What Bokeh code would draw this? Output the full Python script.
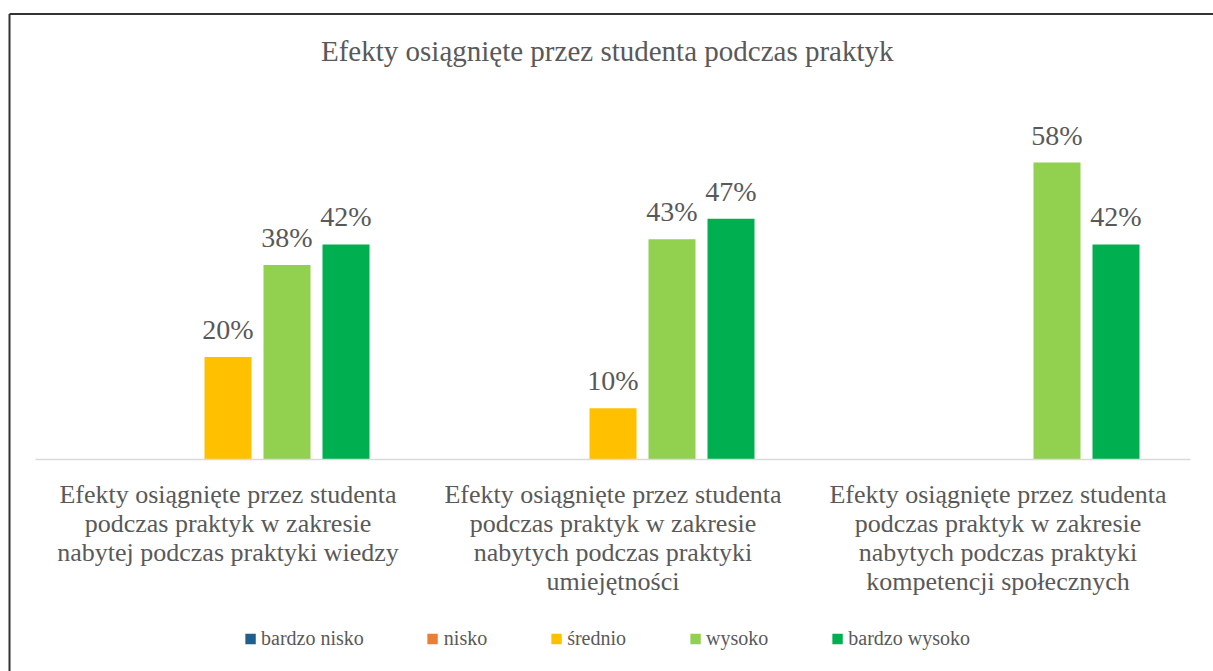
from bokeh.plotting import figure
from bokeh.models import (ColumnDataSource, LinearAxis, FixedTicker, Range1d,
                          Label, LabelSet)
from bokeh.transform import dodge
from bokeh.embed import file_html
from bokeh.resources import INLINE

# ---- data ----
chart_title = "Efekty  osiągnięte  przez studenta podczas praktyk"
categories = [
    "Efekty osiągnięte przez studenta\npodczas praktyk w zakresie\nnabytej podczas praktyki wiedzy",
    "Efekty osiągnięte przez studenta\npodczas praktyk w zakresie\nnabytych podczas praktyki\numiejętności",
    "Efekty osiągnięte przez studenta\npodczas praktyk w zakresie\nnabytych podczas praktyki\nkompetencji społecznych",
]
series_names = ["bardzo nisko", "nisko", "średnio", "wysoko", "bardzo wysoko"]
bardzo_nisko = [0, 0, 0]
nisko = [0, 0, 0]
srednio = [20, 10, 0]
wysoko = [38, 43, 58]
bardzo_wysoko = [42, 47, 42]
series_values = [bardzo_nisko, nisko, srednio, wysoko, bardzo_wysoko]
colors = ["#1F5F8B", "#ED7D31", "#FFC000", "#92D050", "#00B050"]

# ---- layout constants ----
W, H = 1213, 671
AX_LEFT = 35          # canvas x of axis start
PX_X = 385.0          # px per category
BASE = 459            # canvas y of baseline
PX_Y = 5.12           # px per percent

x_start = -0.5 - AX_LEFT / PX_X
x_end = -0.5 + (W - AX_LEFT) / PX_X
y_end = BASE / PX_Y
y_start = -(H - BASE) / PX_Y

TXT = "#595959"
FONT = "Liberation Serif"

p = figure(width=W, height=H, output_backend="svg", toolbar_location=None,
           x_range=Range1d(x_start, x_end), y_range=Range1d(y_start, y_end),
           x_axis_location=None, y_axis_location=None, min_border=0,
           outline_line_color=None, background_fill_color="white",
           border_fill_color="white")
p.title.visible = False
p.xgrid.visible = False
p.ygrid.visible = False

xs = list(range(len(categories)))
bar_w = 47 / PX_X
step = 59 / PX_X

for i, (name, vals, col) in enumerate(zip(series_names, series_values, colors)):
    off = (i - 2) * step
    src = ColumnDataSource(dict(x=xs, top=vals))
    p.vbar(x=dodge("x", off, range=p.x_range), top="top", width=bar_w,
           source=src, fill_color=col, line_color=None, legend_label=name)
    lx = [x for x, v in zip(xs, vals) if v > 0]
    lv = [v for v in vals if v > 0]
    lsrc = ColumnDataSource(dict(x=[x + off for x in lx], y=lv,
                                 t=[f"{v}%" for v in lv]))
    p.add_layout(LabelSet(x="x", y="y", text="t", source=lsrc,
                          text_align="center", text_baseline="alphabetic",
                          y_offset=18, text_font=FONT,
                          text_font_size="28px", text_color=TXT))

axis = LinearAxis(ticker=FixedTicker(ticks=xs), fixed_location=0,
                  bounds=(-0.5, len(categories) - 0.5))
axis.major_label_overrides = {x: c for x, c in zip(xs, categories)}
axis.major_tick_line_color = None
axis.minor_tick_line_color = None
axis.major_tick_out = 0
axis.major_tick_in = 0
axis.axis_line_color = "#D9D9D9"
axis.axis_line_width = 1.5
axis.major_label_text_font = FONT
axis.major_label_text_font_size = "26px"
axis.major_label_text_color = TXT
axis.major_label_text_line_height = 1.0
axis.major_label_standoff = 20
p.add_layout(axis, "below")

# frame lines (top and left border of the chart area)
top_y = y_end - 13.5 / PX_Y
left_x = x_start + 9.0 / PX_X
p.segment(x0=[left_x, left_x], y0=[top_y, top_y], x1=[x_end, left_x],
          y1=[top_y, y_start], line_color="#333333", line_width=2)

p.add_layout(Label(x=614, y=H - 50, x_units="screen", y_units="screen",
                   text=chart_title, text_align="center", text_baseline="middle",
                   text_font=FONT, text_font_size="29px", text_color=TXT))

lg = p.legend[0]
lg.location = "bottom_center"
lg.orientation = "horizontal"
lg.label_text_font = FONT
lg.label_text_font_size = "20px"
lg.label_text_color = TXT
lg.glyph_width = 13
lg.glyph_height = 13
lg.label_standoff = 5
lg.spacing = 62
lg.padding = 0
lg.margin = 21
lg.label_height = 20
lg.border_line_color = None
lg.background_fill_alpha = 0

open("out.html", "w").write(file_html(p, INLINE))
